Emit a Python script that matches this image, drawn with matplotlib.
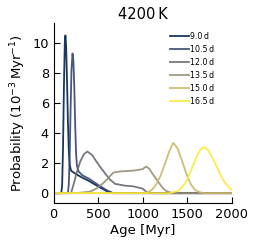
import numpy as np
import matplotlib
matplotlib.use('Agg')
import matplotlib.pyplot as plt

# rotation periods (legend) and age grids / probabilities
periods = ['9.0', '10.5', '12.0', '13.5', '15.0', '16.5']

age_90 = [0, 85, 95, 105, 115, 125, 132, 140, 150, 160, 170, 180, 195, 230, 300, 400, 500, 600, 660, 2000]
prob_90 = [0, 0, 0.5, 3.0, 7.0, 10.0, 10.5, 9.8, 7.5, 4.8, 2.8, 1.9, 1.5, 1.35, 1.1, 0.8, 0.45, 0.12, 0, 0]

age_105 = [0, 160, 170, 180, 190, 200, 212, 222, 232, 242, 252, 262, 280, 320, 400, 500, 600, 670, 2000]
prob_105 = [0, 0, 0.6, 2.5, 5.5, 8.2, 9.3, 8.8, 7.0, 4.5, 2.6, 1.8, 1.45, 1.2, 0.95, 0.55, 0.18, 0, 0]

age_120 = [0, 195, 220, 258, 298, 340, 380, 430, 470, 520, 580, 633, 690, 800, 900, 1000, 1030, 1050, 1080, 2000]
prob_120 = [0, 0, 0.5, 1.35, 2.1, 2.6, 2.77, 2.55, 2.2, 1.77, 1.3, 0.9, 0.62, 0.5, 0.45, 0.3, 0.15, 0.03, 0, 0]

age_135 = [0, 220, 300, 408, 480, 557, 620, 670, 750, 895, 1000, 1037, 1070, 1110, 1157, 1200, 1232, 1270, 1307, 1350, 2000]
prob_135 = [0, 0, 0.03, 0.1, 0.3, 0.67, 1.05, 1.37, 1.45, 1.5, 1.6, 1.77, 1.65, 1.3, 0.9, 0.55, 0.3, 0.13, 0.05, 0, 0]

age_150 = [0, 1000, 1050, 1100, 1150, 1200, 1250, 1300, 1344, 1390, 1440, 1490, 1540, 1590, 1640, 1700, 2000]
prob_150 = [0, 0, 0.05, 0.2, 0.55, 1.15, 1.95, 2.8, 3.35, 3.0, 2.2, 1.3, 0.6, 0.2, 0.06, 0, 0]

age_165 = [0, 1300, 1400, 1450, 1500, 1550, 1600, 1650, 1690, 1730, 1780, 1830, 1880, 1930, 1980, 2000]
prob_165 = [0, 0, 0.15, 0.45, 0.9, 1.6, 2.35, 2.9, 3.07, 2.9, 2.4, 1.8, 1.15, 0.65, 0.33, 0.25]

ages = [age_90, age_105, age_120, age_135, age_150, age_165]
probs = [prob_90, prob_105, prob_120, prob_135, prob_150, prob_165]

colors = plt.cm.cividis(np.linspace(0, 1, len(periods)))

fig = plt.figure(figsize=(2.58, 2.49), dpi=100)
ax = fig.add_axes([0.208, 0.185, 0.69, 0.721])

for i in range(len(periods)):
    ax.plot(ages[i], probs[i], color=colors[i], lw=1.3, alpha=0.9, label=periods[i] + '\u2009d')

ax.set_xlim(0, 2000)
ax.set_ylim(-0.65, 11.3)
ax.set_xticks([0, 500, 1000, 1500, 2000])
ax.set_yticks([0, 2, 4, 6, 8, 10])
ax.tick_params(direction='in', length=4, labelsize=9.3)
ax.spines['top'].set_visible(False)
ax.spines['right'].set_visible(False)

ax.set_xlabel('Age [Myr]', fontsize=9.5, labelpad=2)
ax.set_ylabel('Probability ($10^{-3}\\,$Myr$^{-1}$)', fontsize=9.5, labelpad=3)
ax.set_title('4200\u2009K', fontsize=10.5, pad=3)

ax.legend(loc='upper right', bbox_to_anchor=(0.92, 0.97), frameon=False, fontsize=5.7,
          handlelength=2.4, handletextpad=0.1, labelspacing=0.5, borderaxespad=0)

fig.savefig('out.png', dpi=100)
